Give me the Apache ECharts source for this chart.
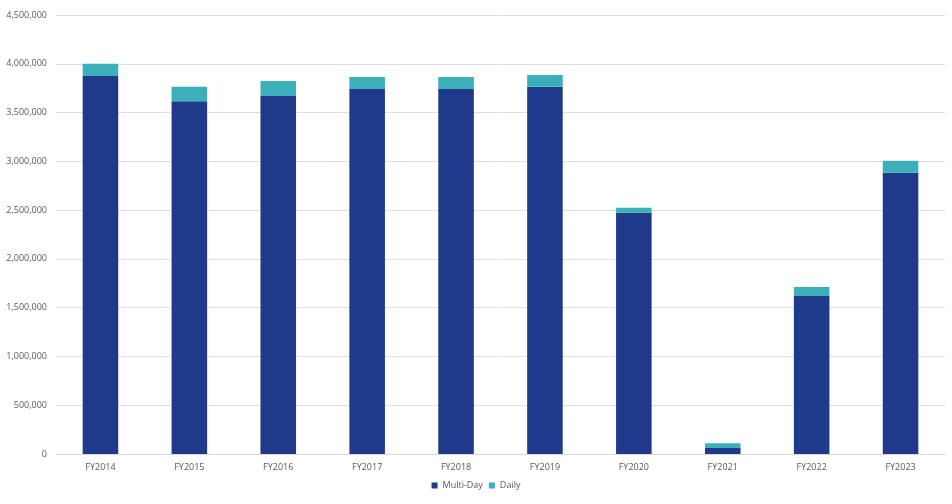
<!DOCTYPE html>
<html><head><meta charset="utf-8">
<script src="https://cdn.jsdelivr.net/npm/echarts@6/dist/echarts.min.js"></script>
<style>html,body{margin:0;padding:0;background:#fff}#c{width:952px;height:504px}</style>
</head><body><div id="c"></div>
<script>
const categories = ['FY2014','FY2015','FY2016','FY2017','FY2018','FY2019','FY2020','FY2021','FY2022','FY2023'];
const multiDay = [3875000,3615000,3670000,3741000,3741000,3765000,2474000,61000,1620000,2884000];
const totals =   [4000000,3765000,3823000,3865000,3865000,3885000,2525000,110000,1712000,3007000];
const daily = totals.map((t,i)=>t-multiDay[i]);

const chart = echarts.init(document.getElementById('c'));
const txt = '#595959';
const font = 'Open Sans';
chart.setOption({
  animation:false,
  grid:{left:56,right:7,top:15,bottom:50,containLabel:false},
  legend:{bottom:9,left:'center',itemWidth:6,itemHeight:6,itemGap:6,icon:'rect',
    textStyle:{color:txt,fontSize:9,fontFamily:font},data:['Multi-Day','Daily']},
  xAxis:{type:'category',data:categories,
    axisLine:{lineStyle:{color:'#d9d9d9'}},axisTick:{show:false},
    axisLabel:{color:txt,fontSize:9,fontFamily:font,margin:9}},
  yAxis:{type:'value',min:0,max:4500000,interval:500000,
    axisLine:{show:false},axisTick:{show:false},
    splitLine:{lineStyle:{color:'#e0e0e0'}},
    axisLabel:{color:txt,fontSize:9,fontFamily:font,margin:9,
      formatter:v=>v.toLocaleString('en-US')}},
  series:[
    {name:'Multi-Day',type:'bar',stack:'s',data:multiDay,barWidth:'40%',itemStyle:{color:'#1f3a8a'}},
    {name:'Daily',type:'bar',stack:'s',data:daily,itemStyle:{color:'#3cb0ba'}}
  ]
});
</script></body></html>
